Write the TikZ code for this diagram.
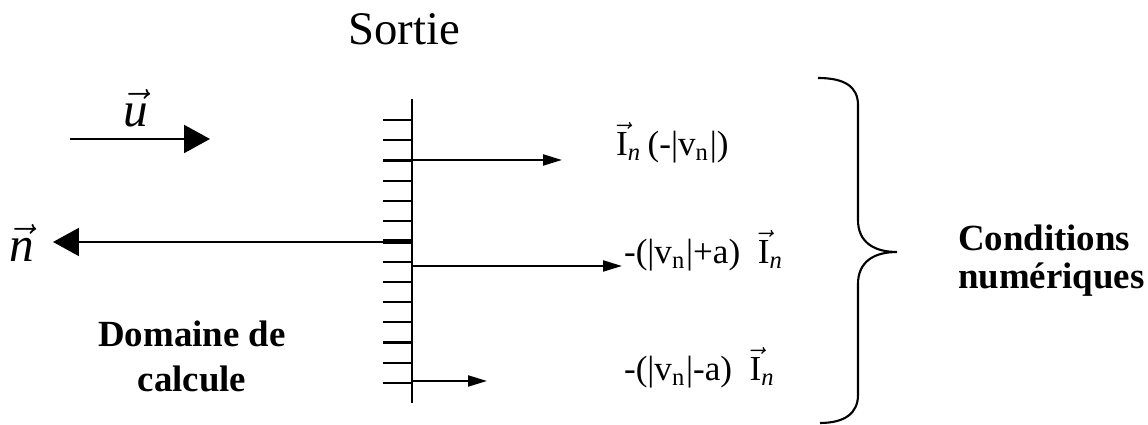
\documentclass[tikz,border=0pt]{standalone}
\usepackage{amsmath}
\usepackage{fontspec}
\setmainfont{Liberation Serif}
\usetikzlibrary{arrows.meta}

\newcommand{\vecI}{$\vec{\text{I}}_{\text{\textit{n}}}$}
\newcommand{\absvn}{|v\textsubscript{n}|}

\begin{document}
\begin{tikzpicture}[>={Triangle[length=0.19cm,width=0.11cm]},line width=0.6pt,
  big/.style={-{Triangle[length=0.26cm,width=0.28cm]}},
  lbl/.style={inner sep=0pt,font=\fontsize{10}{12}\selectfont},
  gras/.style={inner sep=0pt,font=\fontsize{10.5}{12.8}\selectfont\bfseries}]
  \useasboundingbox (0,0) rectangle (11.48,4.25);

  % paroi
  \coordinate (Wt) at (4.12,3.26);
  \coordinate (Wb) at (4.12,0.22);
  \draw (Wt) -- (Wb);
  \foreach \k in {0,...,13}
    \draw (3.83,{3.05-0.2023*\k}) -- (4.12,{3.05-0.2023*\k});
  \draw[line width=1.3pt] (3.83,1.836) -- (4.12,1.836);

  % vecteurs u et n
  \coordinate (U0) at (0.70,2.86);
  \coordinate (U1) at (2.10,2.86);
  \draw[big] (U0) -- (U1);
  \node[inner sep=0pt,font=\fontsize{14}{16}\selectfont] (u) at (1.36,3.17) {$\vec{\textit{u}}$};

  \coordinate (N0) at (4.12,1.83);
  \coordinate (N1) at (0.53,1.83);
  \draw[big] (N0) -- (N1);
  \node[inner sep=0pt,font=\fontsize{14}{16}\selectfont] (n) at (0.22,1.82) {$\vec{\textit{n}}$};

  % fleches sortantes
  \coordinate (A1) at (4.12,2.65);
  \coordinate (B1) at (5.62,2.65);
  \coordinate (A2) at (4.12,1.59);
  \coordinate (B2) at (6.22,1.59);
  \coordinate (A3) at (4.12,0.44);
  \coordinate (B3) at (4.87,0.44);
  \draw[->] (A1) -- (B1);
  \draw[->] (A2) -- (B2);
  \draw[->] (A3) -- (B3);

  \node[lbl,anchor=west] (c1) at (6.15,2.82) {\vecI\,(-\absvn)};
  \node[lbl,anchor=west] (c2) at (6.23,1.74) {-(\absvn+a)\enspace\vecI};
  \node[lbl,anchor=west] (c3) at (6.23,0.57) {-(\absvn-a)\enspace\vecI};

  % accolade
  \draw (8.18,3.47) .. controls (8.45,3.47) and (8.58,3.38) .. (8.58,3.20)
    -- (8.58,2.05) .. controls (8.58,1.82) and (8.75,1.73) .. (8.97,1.73)
    .. controls (8.75,1.73) and (8.58,1.64) .. (8.58,1.41)
    -- (8.58,0.30) .. controls (8.58,0.12) and (8.45,0.02) .. (8.20,0.02);

  \node[inner sep=0pt,font=\fontsize{13.3}{16}\selectfont] (sortie) at (4.04,3.96) {Sortie};
  \node[gras,align=center] (dom) at (1.92,0.69) {Domaine de\\ calcule};
  \node[gras,align=left,anchor=west,font=\fontsize{10.5}{11}\selectfont\bfseries] (cond) at (9.57,1.645) {Conditions\\ numériques};
\end{tikzpicture}
\end{document}
